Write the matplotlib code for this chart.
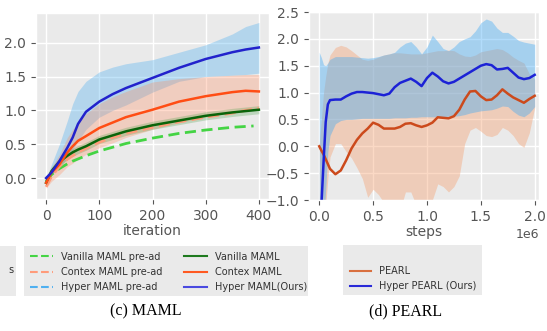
import numpy as np
import matplotlib.pyplot as plt
from matplotlib.lines import Line2D
from matplotlib.patches import Rectangle

plt.style.use("ggplot")
plt.rcParams["font.family"] = ["DejaVu Sans"]

# --------------------------
# (c) MAML data
# --------------------------
iters = [0, 10, 25, 40, 50, 60, 75, 100, 125, 150, 200, 250, 300, 350, 375, 400]
hyper_maml = [0.0, 0.08, 0.25, 0.45, 0.60, 0.80, 0.98, 1.13, 1.24, 1.33, 1.48, 1.63, 1.76, 1.86, 1.90, 1.93]
hyper_maml_hi = [0.0, 0.20, 0.50, 0.85, 1.10, 1.28, 1.43, 1.57, 1.64, 1.69, 1.75, 1.86, 1.97, 2.13, 2.24, 2.30]
hyper_maml_lo = [0.0, 0.05, 0.15, 0.30, 0.42, 0.55, 0.72, 0.90, 1.00, 1.08, 1.27, 1.43, 1.50, 1.52, 1.53, 1.55]
contex_maml = [-0.07, 0.08, 0.20, 0.38, 0.47, 0.55, 0.62, 0.74, 0.82, 0.90, 1.01, 1.13, 1.21, 1.27, 1.29, 1.28]
contex_maml_hi = [-0.02, 0.15, 0.35, 0.60, 0.72, 0.82, 0.95, 1.10, 1.20, 1.28, 1.42, 1.47, 1.50, 1.52, 1.53, 1.53]
contex_maml_lo = [-0.15, -0.05, 0.05, 0.17, 0.22, 0.28, 0.35, 0.45, 0.52, 0.60, 0.72, 0.82, 0.90, 0.97, 1.00, 1.02]
vanilla_maml = [-0.07, 0.10, 0.24, 0.33, 0.38, 0.42, 0.47, 0.57, 0.63, 0.69, 0.78, 0.85, 0.92, 0.97, 0.99, 1.01]
vanilla_maml_hi = [-0.02, 0.16, 0.30, 0.39, 0.44, 0.48, 0.53, 0.63, 0.69, 0.75, 0.84, 0.91, 0.98, 1.03, 1.05, 1.07]
vanilla_maml_lo = [-0.12, 0.04, 0.18, 0.27, 0.32, 0.36, 0.41, 0.51, 0.57, 0.63, 0.72, 0.79, 0.86, 0.91, 0.93, 0.95]
contex_pre = [-0.13, 0.02, 0.17, 0.28, 0.33, 0.38, 0.44, 0.53, 0.60, 0.66, 0.75, 0.83, 0.90, 0.96, 1.00, 1.03]

iters_pre = [0, 10, 25, 40, 50, 75, 100, 150, 200, 250, 300, 350, 390]
vanilla_pre = [-0.05, 0.05, 0.14, 0.21, 0.25, 0.33, 0.40, 0.51, 0.59, 0.66, 0.71, 0.75, 0.77]

# --------------------------
# (d) PEARL data (steps in millions)
# --------------------------
steps = [0, 0.02, 0.04, 0.06, 0.08, 0.1, 0.15, 0.2, 0.25, 0.3, 0.35, 0.4, 0.45, 0.5, 0.55,
         0.6, 0.65, 0.7, 0.75, 0.8, 0.85, 0.9, 0.95, 1.0, 1.05, 1.1, 1.15, 1.2, 1.25, 1.3,
         1.35, 1.4, 1.45, 1.5, 1.55, 1.6, 1.65, 1.7, 1.75, 1.8, 1.85, 1.9, 1.95, 2.0]
pearl = [0.0, -0.08, -0.15, -0.24, -0.33, -0.42, -0.52, -0.45, -0.26, -0.04, 0.12, 0.24, 0.33,
         0.44, 0.40, 0.33, 0.33, 0.33, 0.36, 0.42, 0.43, 0.39, 0.36, 0.39, 0.44, 0.54, 0.53,
         0.52, 0.56, 0.68, 0.87, 1.02, 1.03, 0.93, 0.86, 0.87, 0.95, 1.06, 0.98, 0.91, 0.86,
         0.81, 0.88, 0.94]
pearl_hi = [0.05, 0.5, 1.0, 1.3, 1.55, 1.7, 1.84, 1.88, 1.85, 1.78, 1.70, 1.62, 1.60, 1.62,
            1.66, 1.70, 1.72, 1.74, 1.74, 1.73, 1.72, 1.72, 1.72, 1.74, 1.76, 1.78, 1.78, 1.79,
            1.78, 1.72, 1.68, 1.67, 1.70, 1.76, 1.78, 1.80, 1.82, 1.80, 1.74, 1.66, 1.60, 1.55,
            1.35, 1.25]
pearl_lo = [-1.8, -1.6, -1.4, -1.1, -0.6, -0.2, 0.05, 0.05, -0.1, -0.22, -0.4, -0.6, -0.95,
            -0.8, -0.9, -1.05, -1.3, -1.3, -1.2, -0.85, -0.85, -1.1, -1.2, -1.2, -1.0, -0.7,
            -0.75, -0.85, -0.75, -0.55, 0.05, 0.3, 0.35, 0.28, 0.2, 0.18, 0.22, 0.35, 0.3,
            0.2, 0.05, -0.02, 0.25, 0.72]
hyper_pearl = [-1.6, -1.1, -0.3, 0.45, 0.78, 0.86, 0.87, 0.87, 0.93, 0.98, 1.01, 1.01, 1.0,
               0.99, 0.97, 0.95, 0.98, 1.10, 1.18, 1.22, 1.26, 1.20, 1.12, 1.27, 1.37, 1.30,
               1.21, 1.17, 1.20, 1.26, 1.32, 1.38, 1.44, 1.50, 1.53, 1.51, 1.43, 1.44, 1.46,
               1.37, 1.28, 1.25, 1.27, 1.33]
hyper_pearl_hi = [1.75, 1.65, 1.52, 1.50, 1.55, 1.62, 1.67, 1.67, 1.67, 1.67, 1.66, 1.65, 1.64,
                  1.65, 1.67, 1.70, 1.72, 1.75, 1.85, 1.92, 1.95, 1.85, 1.72, 1.85, 2.07, 1.95,
                  1.82, 1.78, 1.85, 1.95, 2.0, 2.04, 2.15, 2.30, 2.37, 2.33, 2.20, 2.12, 2.12,
                  2.05, 1.97, 1.94, 1.92, 1.90]
hyper_pearl_lo = [-3.0, -2.0, -1.5, -0.8, -0.1, 0.2, 0.42, 0.48, 0.50, 0.50, 0.51, 0.52, 0.52,
                  0.52, 0.52, 0.52, 0.52, 0.53, 0.53, 0.53, 0.54, 0.54, 0.55, 0.55, 0.55, 0.55,
                  0.55, 0.56, 0.56, 0.57, 0.59, 0.62, 0.64, 0.66, 0.67, 0.68, 0.71, 0.75, 0.74,
                  0.65, 0.58, 0.55, 0.62, 0.74]

bg = "#EAEAEA"
fig = plt.figure(figsize=(5.47, 3.31), dpi=100)

# ---- left panel
ax1 = fig.add_axes([36 / 547, 1 - 199 / 331, 233 / 547, 186 / 331])
ax1.set_facecolor(bg)
ax1.fill_between(iters, hyper_maml_lo, hyper_maml_hi, color="#4fb0f0", alpha=0.35, lw=0)
ax1.fill_between(iters, contex_maml_lo, contex_maml_hi, color="#ff8a5c", alpha=0.3, lw=0)
ax1.fill_between(iters, vanilla_maml_lo, vanilla_maml_hi, color="#3a9a3a", alpha=0.25, lw=0)
ax1.plot(iters_pre, vanilla_pre, color="#44d444", lw=2, dashes=(4, 2))
ax1.plot(iters, contex_pre, color="#ff9b7a", lw=2, dashes=(4, 2))
ax1.plot(iters, vanilla_maml, color="#0a640a", lw=1.8)
ax1.plot(iters, contex_maml, color="#ff4d14", lw=1.8)
ax1.plot(iters, hyper_maml, color="#2222cc", lw=1.8)
ax1.set_xlim(-19, 419)
ax1.set_ylim(-0.31, 2.44)
ax1.set_xticks([0, 100, 200, 300, 400])
ax1.set_yticks([0.0, 0.5, 1.0, 1.5, 2.0])
ax1.set_xlabel("iteration", fontsize=10, color="#555555", labelpad=1)

# ---- right panel
ax2 = fig.add_axes([309 / 547, 1 - 200 / 331, 230 / 547, 188 / 331])
ax2.set_facecolor(bg)
sx = np.array(steps) * 1e6
ax2.fill_between(sx, pearl_lo, pearl_hi, color="#f5a070", alpha=0.4, lw=0)
ax2.fill_between(sx, hyper_pearl_lo, hyper_pearl_hi, color="#3fa9f5", alpha=0.4, lw=0)
ax2.plot(sx, pearl, color="#cc4a1c", lw=1.8)
ax2.plot(sx, hyper_pearl, color="#1c22d6", lw=1.8)
ax2.set_xlim(-0.095e6, 2.04e6)
ax2.set_ylim(-1.0, 2.5)
ax2.set_yticks(np.arange(-1.0, 2.51, 0.5))
ax2.set_xticks([0, 0.5e6, 1.0e6, 1.5e6, 2.0e6])
ax2.set_xlabel("steps", fontsize=10, color="#555555", labelpad=1)
ax2.xaxis.get_offset_text().set_fontsize(9)
ax2.xaxis.get_offset_text().set_color("#555555")

for ax in (ax1, ax2):
    ax.tick_params(labelsize=10, colors="#555555")
    ax.grid(True, color="white", lw=1)

# ---- legends (boxes drawn as figure patches)
def px_rect(x0, y0, x1, y1):
    return Rectangle((x0 / 547, 1 - y1 / 331), (x1 - x0) / 547, (y1 - y0) / 331,
                     transform=fig.transFigure, facecolor=bg, edgecolor="none")

fig.patches.append(px_rect(0, 246, 16, 296))
fig.patches.append(px_rect(24, 246, 308, 296))
fig.patches.append(px_rect(343, 245, 482, 295))
fig.text(8 / 547, 1 - 270 / 331, "s", fontsize=7, color="#333333", va="center")

maml_handles = [
    Line2D([], [], color="#44d444", lw=1.5, ls="--"),
    Line2D([], [], color="#ff9b7a", lw=1.5, ls="--"),
    Line2D([], [], color="#4fb0f0", lw=1.5, ls="--"),
    Line2D([], [], color="#1e7a1e", lw=1.5),
    Line2D([], [], color="#ff5a22", lw=1.5),
    Line2D([], [], color="#4a4ae0", lw=1.5),
]
maml_labels = ["Vanilla MAML pre-ad", "Contex MAML pre-ad", "Hyper MAML pre-ad",
               "Vanilla MAML", "Contex MAML", "Hyper MAML(Ours)"]
fig.legend(maml_handles, maml_labels, ncol=2, frameon=False, fontsize=7,
           loc="upper left", bbox_to_anchor=(22 / 547, 1 - 244 / 331),
           handlelength=2.4, handletextpad=0.8, columnspacing=2.2,
           labelspacing=0.55, borderpad=0.3, labelcolor="#333333")

pearl_handles = [Line2D([], [], color="none"),
                 Line2D([], [], color="#d9703f", lw=1.5),
                 Line2D([], [], color="#2a2ad8", lw=1.5)]
fig.legend(pearl_handles, ["", "PEARL", "Hyper PEARL (Ours)"], frameon=False, fontsize=7,
           loc="upper left", bbox_to_anchor=(342 / 547, 1 - 243 / 331),
           handlelength=2.2, handletextpad=0.8, labelspacing=0.55, borderpad=0.3,
           labelcolor="#333333")

# ---- captions
fig.text(146 / 547, 1 - 311 / 331, "(c) MAML", family="Liberation Serif",
         fontsize=11.5, ha="center", va="center", color="black")
fig.text(406 / 547, 1 - 311 / 331, "(d) PEARL", family="Liberation Serif",
         fontsize=11.5, ha="center", va="center", color="black")

fig.savefig("out.png", dpi=100)
